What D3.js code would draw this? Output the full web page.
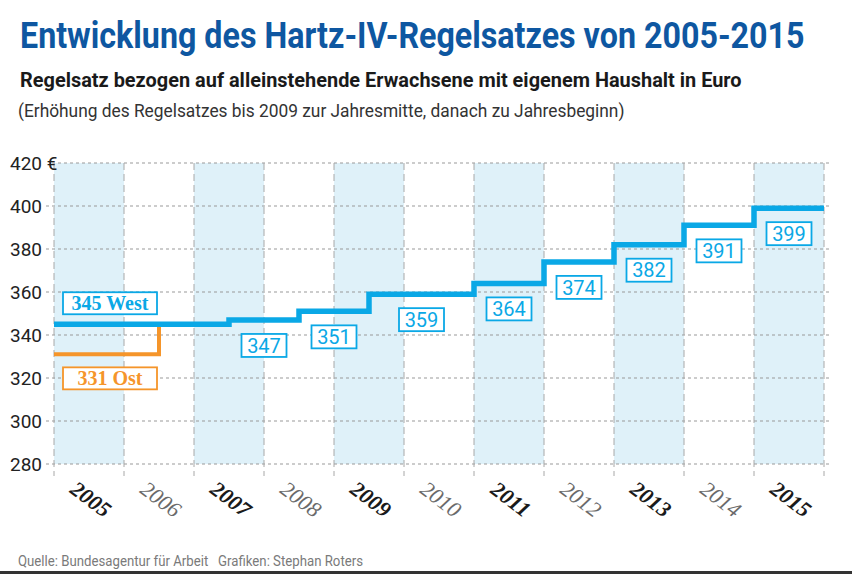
<!DOCTYPE html>
<html><head><meta charset="utf-8">
<script src="https://cdn.jsdelivr.net/npm/d3@7"></script>
<style>
html,body{margin:0;padding:0;background:#fff;}
svg{display:block;}
</style></head>
<body>
<svg id="chart" width="852" height="574"></svg>
<script>
// ---- data ----
const years = [2005,2006,2007,2008,2009,2010,2011,2012,2013,2014,2015];
const yTicks = [280,300,320,340,360,380,400,420];
const westStart = [2005, 2007.5, 2008.5, 2009.5, 2011, 2012, 2013, 2014, 2015];
const westValues = [345, 347, 351, 359, 364, 374, 382, 391, 399];
const westEnd = 2016;
const ostStart = [2005];
const ostValues = [331];
const ostEnd = 2006.5;   // afterwards equal to West
const westLabel = "345 West";
const ostLabel = "331 Ost";
const title = "Entwicklung des Hartz-IV-Regelsatzes von 2005-2015";
const subtitle = "Regelsatz bezogen auf alleinstehende Erwachsene mit eigenem Haushalt in Euro";
const note = "(Erhöhung des Regelsatzes bis 2009 zur Jahresmitte, danach zu Jahresbeginn)";
const source = "Quelle: Bundesagentur für Arbeit   Grafiken: Stephan Roters";

// ---- styles ----
const BLUE = "#0aa8e6", ORANGE = "#f5952a", BAND = "#dff1f9", TITLE = "#0e57a1";
const SANS = "Roboto, 'Open Sans', sans-serif";
const SERIF = "'Liberation Serif', 'DejaVu Serif', serif";

const svg = d3.select("#chart");
const x = d3.scaleLinear().domain([2005, 2016]).range([54, 824]);
const y = d3.scaleLinear().domain([280, 420]).range([464, 163]);

// text fitted to a given width by horizontal scaling
function fitText(txt, tx, ty, width, size, weight, fill){
  const g = svg.append("g");
  const t = g.append("text").attr("x",0).attr("y",0).text(txt)
    .attr("font-family",SANS).attr("font-weight",weight).attr("font-size",size)
    .attr("fill",fill).style("white-space","pre");
  const w = t.node().getComputedTextLength();
  g.attr("transform",`translate(${tx},${ty}) scale(${width/w},1)`);
}
fitText(title, 20, 48, 785, 36, 700, TITLE);
fitText(subtitle, 20, 87, 722, 20, 700, "#1a1a1a");
fitText(note, 18, 117, 607, 18, 400, "#333");

// bands for odd years
svg.append("g").selectAll("rect").data(years.filter((d,i)=>i%2===0)).join("rect")
  .attr("x",d=>x(d)).attr("width",d=>x(d+1)-x(d))
  .attr("y",y(420)).attr("height",y(280)-y(420)).attr("fill",BAND);

// horizontal dotted grid
svg.append("g").selectAll("line").data(yTicks).join("line")
  .attr("x1",d=>d===420?52:46).attr("x2",830).attr("y1",d=>y(d)).attr("y2",d=>y(d))
  .attr("stroke","#9a9a9a").attr("stroke-width",1.2).attr("stroke-dasharray","3,3");

// vertical dashed grid
svg.append("g").selectAll("line").data(years.concat([2016])).join("line")
  .attr("x1",d=>x(d)).attr("x2",d=>x(d)).attr("y1",y(420)).attr("y2",476)
  .attr("stroke","#a8a8a8").attr("stroke-width",1).attr("stroke-dasharray","7,4");

// y labels
svg.append("g").selectAll("text").data(yTicks).join("text")
  .attr("x",10).attr("y",d=>y(d)).attr("dy","0.36em")
  .text(d=>d===420? d+" €" : d)
  .attr("font-family",SANS).attr("font-size",19).attr("fill","#222");

// x labels
svg.append("g").selectAll("text").data(years).join("text")
  .attr("transform",d=>`translate(${(x(d)+x(d+1))/2+2},499) rotate(37)`)
  .attr("text-anchor","middle").attr("dy","0.35em")
  .text(d=>d)
  .attr("font-family",SERIF).attr("font-style","italic").attr("font-size",22)
  .attr("font-weight",(d,i)=>i%2===0?700:400)
  .attr("fill",(d,i)=>i%2===0?"#1a1a1a":"#6a6a6a");

// step lines
function stepPath(starts, vals, end){
  const pts = [];
  starts.forEach((s,i)=>{
    const e = i<starts.length-1 ? starts[i+1] : end;
    pts.push([x(s),y(vals[i])],[x(e),y(vals[i])]);
  });
  return d3.line()(pts);
}
const ostPts = [[x(ostStart[0]),y(ostValues[0])],[x(ostEnd),y(ostValues[0])],[x(ostEnd),y(westValues[0])]];
svg.append("path").attr("d",d3.line()(ostPts)).attr("fill","none")
  .attr("stroke",ORANGE).attr("stroke-width",4);
svg.append("path").attr("d",stepPath(westStart,westValues,westEnd)).attr("fill","none")
  .attr("stroke",BLUE).attr("stroke-width",5.5);

// value labels (below line, at segment midpoint)
const lab = svg.append("g");
westValues.forEach((v,i)=>{
  if(i===0) return;
  const e = i<westStart.length-1 ? westStart[i+1] : westEnd;
  const cx = (x(westStart[i])+x(e))/2, cy = y(v)+25.5;
  lab.append("rect").attr("x",cx-22.5).attr("y",cy-11.5).attr("width",45).attr("height",23)
    .attr("fill","#fff").attr("stroke",BLUE).attr("stroke-width",1.8);
  lab.append("text").attr("x",cx).attr("y",cy).attr("dy","0.36em").attr("text-anchor","middle")
    .text(v).attr("font-family",SANS).attr("font-size",20).attr("fill",BLUE);
});
// West / Ost labels
function nameBox(txt, cx, cy, col){
  lab.append("rect").attr("x",cx-47).attr("y",cy-11).attr("width",94).attr("height",22)
    .attr("fill","#fff").attr("stroke",col).attr("stroke-width",1.8);
  lab.append("text").attr("x",cx).attr("y",cy).attr("dy","0.35em").attr("text-anchor","middle")
    .text(txt).attr("font-family",SERIF).attr("font-weight",700).attr("font-size",20).attr("fill",col);
}
const nameX = x(westStart[0]) + 56;
nameBox(westLabel, nameX, y(westValues[0]) - 21, BLUE);
nameBox(ostLabel, nameX, y(ostValues[0]) + 24, ORANGE);

// footer
svg.append("text").attr("x",18).attr("y",566).text(source)
  .attr("font-family",SANS).attr("font-size",14).attr("fill","#7a7a7a")
  .style("white-space","pre")
  .attr("textLength",345).attr("lengthAdjust","spacingAndGlyphs");
svg.append("rect").attr("x",0).attr("y",571).attr("width",852).attr("height",3).attr("fill","#333");
</script>
</body></html>
